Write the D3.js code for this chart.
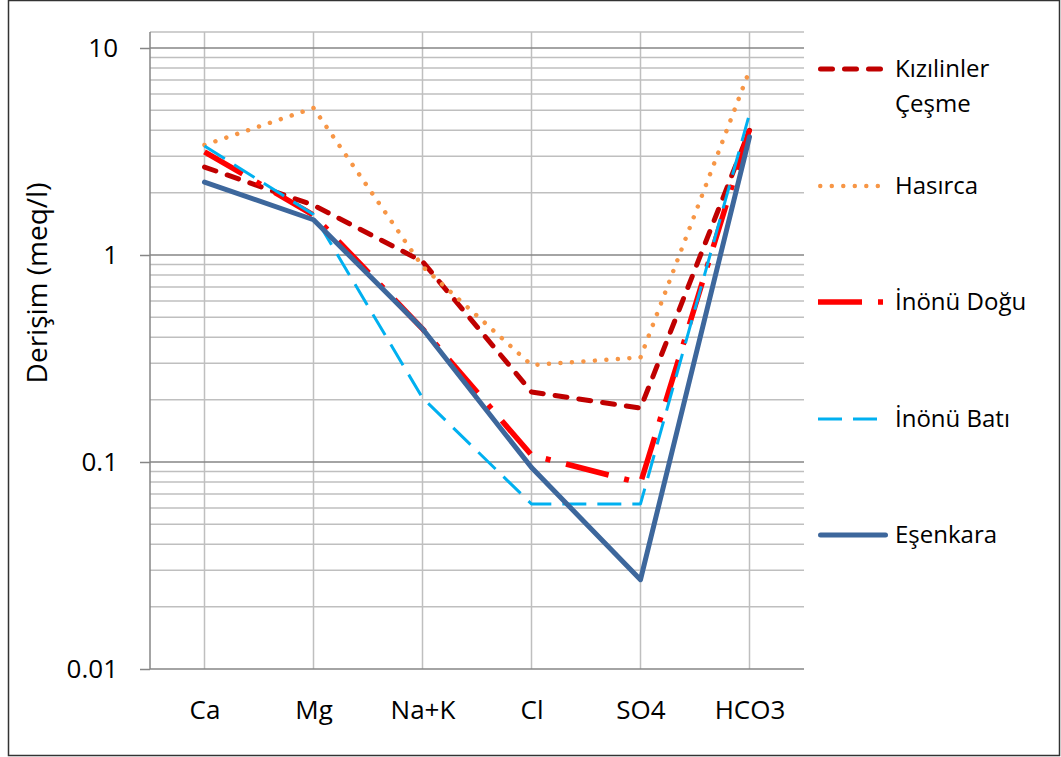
<!DOCTYPE html>
<html><head><meta charset="utf-8">
<script src="https://cdn.jsdelivr.net/npm/d3@7"></script>
<style>body{margin:0;background:#fff}svg{display:block}text{font-family:"Open Sans",sans-serif;fill:#000}</style>
</head><body><svg id="c" width="1061" height="757"></svg>
<script>
const categories = ["Ca","Mg","Na+K","Cl","SO4","HCO3"];
const seriesNames = ["Kızılinler Çeşme","Hasırca","İnönü Doğu","İnönü Batı","Eşenkara"];
const kizilinler = [2.66, 1.74, 0.93, 0.218, 0.182, 4.0];
const hasirca    = [3.4, 5.13, 0.88, 0.294, 0.32, 7.8];
const inonuDogu  = [3.15, 1.56, 0.44, 0.108, 0.079, 4.05];
const inonuBati  = [3.36, 1.57, 0.204, 0.0627, 0.0627, 4.8];
const esenkara   = [2.25, 1.48, 0.44, 0.094, 0.027, 3.72];
const yTickValues = [0.01, 0.1, 1, 10];
const yTickLabels = ["0.01","0.1","1","10"];
const yTitle = "Derişim (meq/l)";

const seriesData = [kizilinler, hasirca, inonuDogu, inonuBati, esenkara];
const styles = [
  {color:"#C00000", width:5, dash:"12,12", cap:"round"},
  {color:"#F79646", width:4.5, dash:"0.01,11.5", cap:"round"},
  {color:"#FF0000", width:5.5, dash:"44,16,5,16", cap:"butt"},
  {color:"#00B0F0", width:3, dash:"24,11", cap:"butt"},
  {color:"#3D679C", width:5, dash:null, cap:"round"}
];

const svg = d3.select("#c");
const L = 150, R = 804, T = 32;
const x = d3.scalePoint().domain(categories).range([L, R]).padding(0.5);
const y = d3.scaleLog().domain([0.01, 10]).range([669, 48]);
const B = y(0.01);

// frame
svg.append("rect").attr("x",8.5).attr("y",0.5).attr("width",1051).attr("height",755)
  .attr("fill","none").attr("stroke","#333").attr("stroke-width",1.5);

const g = svg.append("g");
// minor grid
const minors = [];
[0.01,0.1,1].forEach(b => { for (let k=2;k<=9;k++) minors.push(b*k); });
g.selectAll(".minor").data(minors).enter().append("line")
  .attr("x1",L).attr("x2",R).attr("y1",d=>y(d)).attr("y2",d=>y(d))
  .attr("stroke","#BFBFBF").attr("stroke-width",1.5);
// top border line
g.append("line").attr("x1",L).attr("x2",R).attr("y1",T).attr("y2",T)
  .attr("stroke","#BFBFBF").attr("stroke-width",1.5);
// vertical grid
g.selectAll(".vg").data(categories).enter().append("line")
  .attr("x1",d=>x(d)).attr("x2",d=>x(d)).attr("y1",T).attr("y2",B)
  .attr("stroke","#BFBFBF").attr("stroke-width",1.5);
// major grid
g.selectAll(".major").data([0.1,1,10]).enter().append("line")
  .attr("x1",L).attr("x2",R).attr("y1",d=>y(d)).attr("y2",d=>y(d))
  .attr("stroke","#868686").attr("stroke-width",1.5);

// y axis
const yAxis = d3.axisLeft(y).tickValues(yTickValues).tickFormat((d,i)=>yTickLabels[i]).tickSize(10).tickPadding(22);
const ya = svg.append("g").attr("transform",`translate(${L},0)`).call(yAxis);
ya.select(".domain").remove();
ya.append("line").attr("x1",0).attr("x2",0).attr("y1",T).attr("y2",B).attr("stroke","#868686").attr("stroke-width",1.5);
ya.selectAll(".tick line").attr("stroke","#868686").attr("stroke-width",1.5);
ya.selectAll(".tick text").style("font-size","26px").attr("fill","#000").style("font-family","'Open Sans',sans-serif");

// x axis
const xAxis = d3.axisBottom(x).tickSize(0).tickPadding(32);
const xa = svg.append("g").attr("transform",`translate(0,${B})`).call(xAxis);
xa.select(".domain").remove();
xa.append("line").attr("x1",L).attr("x2",R).attr("y1",0).attr("y2",0).attr("stroke","#868686").attr("stroke-width",1.5);
xa.selectAll(".tick text").style("font-size","26px").attr("fill","#000").style("font-family","'Open Sans',sans-serif");

// y title
svg.append("text").attr("transform","translate(47,283) rotate(-90)").attr("text-anchor","middle")
  .style("font-size","28px").text(yTitle);

// lines
const line = d3.line().x((d,i)=>x(categories[i])).y(d=>y(d));
seriesData.forEach((s,i)=>{
  const st = styles[i];
  svg.append("path").datum(s).attr("d",line).attr("fill","none")
    .attr("stroke",st.color).attr("stroke-width",st.width)
    .attr("stroke-dasharray",st.dash).attr("stroke-linecap",st.cap).attr("stroke-linejoin","round");
});

// legend
const legY = [69, 186, 302, 419, 535];
seriesNames.forEach((n,i)=>{
  const st = styles[i];
  const gy = legY[i];
  const x1 = st.cap==="round" ? 818+st.width/2 : 818;
  const x2 = st.cap==="round" ? 888-st.width/2 : 888;
  svg.append("line").attr("x1",x1).attr("x2",x2).attr("y1",gy).attr("y2",gy)
    .attr("stroke",st.color).attr("stroke-width",st.width)
    .attr("stroke-dasharray",st.dash).attr("stroke-linecap",st.cap);
  const t = svg.append("text").attr("x",895).attr("y",gy).attr("dy","0.35em").style("font-size","24px");
  if (i===0) {
    const parts = n.split(" ");
    t.append("tspan").attr("x",895).text(parts[0]);
    t.append("tspan").attr("x",895).attr("dy","1.45em").text(parts[1]);
  } else t.text(n);
});
</script></body></html>
